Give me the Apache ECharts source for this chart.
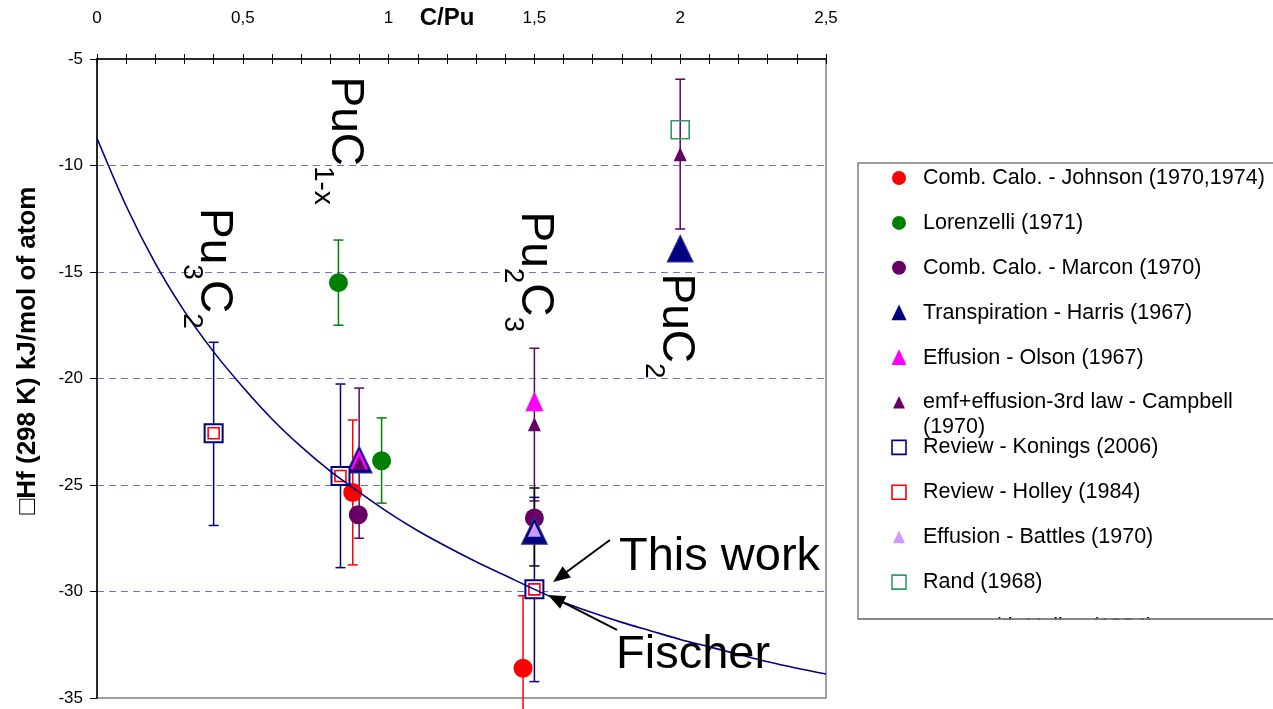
<!DOCTYPE html>
<html><head><meta charset="utf-8">
<script src="https://cdn.jsdelivr.net/npm/echarts@6/dist/echarts.min.js"></script>
<style>html,body{margin:0;padding:0;background:#fff}#c{width:1273px;height:709px}</style>
</head><body><div id="c"></div>
<script>
// ---------- data ----------
const xTickLabels = ['0', '0,5', '1', '1,5', '2', '2,5'];
const yTickLabels = ['-35', '-30', '-25', '-20', '-15', '-10', '-5'];
const xTitle = 'C/Pu';
const yTitle = '\u25A1Hf (298 K) kJ/mol of atom';

const curveX = [0, 0.1, 0.2, 0.3, 0.4, 0.5, 0.6, 0.7, 0.8, 0.9, 1.0, 1.1, 1.2, 1.3, 1.4, 1.5, 1.6, 1.7, 1.8, 1.9, 2.0, 2.1, 2.2, 2.3, 2.4, 2.5];
const curveY = [-8.72, -11.9, -14.6, -16.85, -18.75, -20.4, -21.9, -23.2, -24.35, -25.35, -26.3, -27.15, -27.9, -28.6, -29.25, -29.9, -30.5, -31.0, -31.45, -31.85, -32.25, -32.6, -32.95, -33.3, -33.6, -33.87];

const johnson = [[0.877, -25.35], [1.461, -33.6]];
const johnsonErr = [[0.877, -21.95, -28.75], [1.461, -30.2, -37.0]];
const lorenzelli = [[0.828, -15.5], [0.976, -23.86]];
const lorenzelliErr = [[0.828, -13.5, -17.5], [0.976, -21.85, -25.85]];
const marcon = [[0.896, -26.4], [1.5, -26.55]];
const harris = [[0.899, -23.8], [1.5, -27.15], [2.0, -13.9]];
const olson = [[0.899, -23.8], [1.5, -21.07]];
const campbell = [[0.899, -23.97], [1.5, -22.15], [2.0, -9.47]];
const campbellErr = [[0.899, -20.45, -27.5], [1.5, -18.58, -25.75], [2.0, -5.95, -12.98]];
const konings = [[0.4, -22.57], [0.835, -24.58], [1.5, -29.9]];
const koningsErr = [[0.4, -18.3, -26.9], [0.835, -20.26, -28.88], [1.5, -25.58, -34.23]];
const holley = [[0.4, -22.57], [0.835, -24.58], [1.5, -29.9]];
const battles = [[1.5, -27.1]];
const battlesErr = [[1.5, -25.14, -28.8]];
const rand = [[2.0, -8.32]];

const legendNames = [
  'Comb. Calo. - Johnson (1970,1974)',
  'Lorenzelli (1971)',
  'Comb. Calo. - Marcon (1970)',
  'Transpiration - Harris (1967)',
  'Effusion - Olson (1967)',
  'emf+effusion-3rd law - Campbell\n(1970)',
  'Review - Konings (2006)',
  'Review - Holley (1984)',
  'Effusion - Battles (1970)',
  'Rand (1968)',
  'curve with Holley (1984)'
];

// formula labels: [text, isSubscript]
const formulaLabels = [
  { parts: [['Pu', 0], ['3', 1], ['C', 0], ['2', 1]], x: 0.3995, y: -12.0 },
  { parts: [['PuC', 0], ['1-x', 1]], x: 0.8505, y: -5.82 },
  { parts: [['Pu', 0], ['2', 1], ['C', 0], ['3', 1]], x: 1.5003, y: -12.16 },
  { parts: [['PuC', 0], ['2', 1]], x: 1.9856, y: -15.07 }
];
const noteTexts = [
  { text: 'This work', x: 1.790, y: -28.40, tail: [1.759, -27.58], tip: [1.564, -29.55] },
  { text: 'Fischer', x: 1.780, y: -32.96, tail: [1.783, -31.80], tip: [1.547, -30.16] }
];

// ---------- chart ----------
const FONT = '"Liberation Sans", Arial, sans-serif';
const chart = echarts.init(document.getElementById('c'), null, { renderer: 'canvas' });

function errSeries(data, color) {
  return {
    type: 'custom', data: data, clip: false, silent: true,
    encode: { x: 0, y: [1, 2] },
    renderItem: function (params, api) {
      const x = api.value(0);
      const a = api.coord([x, api.value(1)]);
      const b = api.coord([x, api.value(2)]);
      const hw = 5;
      const st = { stroke: color, lineWidth: 1.5 };
      return {
        type: 'group', children: [
          { type: 'line', shape: { x1: a[0], y1: a[1], x2: b[0], y2: b[1] }, style: st },
          { type: 'line', shape: { x1: a[0] - hw, y1: a[1], x2: a[0] + hw, y2: a[1] }, style: st },
          { type: 'line', shape: { x1: b[0] - hw, y1: b[1], x2: b[0] + hw, y2: b[1] }, style: st }
        ]
      };
    }
  };
}
function scat(data, symbol, size, itemStyle) {
  itemStyle.opacity = 1;
  return { type: 'scatter', data: data, symbol: symbol, symbolSize: size, itemStyle: itemStyle, silent: true, emphasis: { disabled: true } };
}

const option = {
  animation: false,
  backgroundColor: '#fff',
  textStyle: { fontFamily: FONT },
  grid: { left: 97, top: 59, right: 447, bottom: 11, show: true, borderColor: '#808080', borderWidth: 1.5, backgroundColor: '#fff', outerBoundsMode: 'none', containLabel: false },
  xAxis: [{
    type: 'value', position: 'top', min: 0, max: 2.5, interval: 0.5,
    name: xTitle, nameLocation: 'middle', nameGap: 29, nameMoveOverlap: false,
    nameTextStyle: { fontFamily: FONT, fontSize: 24, fontWeight: 'bold', color: '#000', padding: [0, 29, 0, 0] },
    axisLine: { lineStyle: { color: '#000', width: 1.5 } },
    axisTick: { show: true, length: 5, lineStyle: { color: '#000' } },
    minorTick: { show: true, splitNumber: 5, length: 5, lineStyle: { color: '#000' } },
    axisLabel: { fontFamily: FONT, fontSize: 17, color: '#000', margin: 32,
      formatter: function (v) { return xTickLabels[Math.round(v / 0.5)]; } },
    splitLine: { show: false }
  }, {
    type: 'value', position: 'top', min: 0, max: 2.5, interval: 0.5,
    axisLine: { show: false },
    axisTick: { show: true, inside: true, length: 5, lineStyle: { color: '#000' } },
    minorTick: { show: true, splitNumber: 5, length: 5, lineStyle: { color: '#000' } },
    axisLabel: { show: false }, splitLine: { show: false }
  }],
  yAxis: {
    type: 'value', min: -35, max: -5, interval: 5,
    name: yTitle, nameLocation: 'middle', nameGap: 56, nameRotate: 90, nameMoveOverlap: false,
    nameTextStyle: { fontFamily: FONT, fontSize: 26, fontWeight: 'bold', color: '#000', padding: [0, 0, 0, 56] },
    axisLine: { show: true, lineStyle: { color: '#000', width: 1.5 } },
    axisTick: { show: true, length: 7, lineStyle: { color: '#000' } },
    axisLabel: { fontFamily: FONT, fontSize: 17, color: '#000', margin: 14,
      formatter: function (v) { return yTickLabels[Math.round((v + 35) / 5)]; } },
    splitLine: { show: true, showMinLine: false, showMaxLine: false,
      lineStyle: { color: 'rgba(0,0,128,0.55)', width: 1, type: [7, 5] } }
  },
  series: [
    errSeries(johnsonErr, '#ff0000'),
    scat(johnson, 'circle', 19, { color: '#ff0000' }),
    errSeries(lorenzelliErr, '#008000'),
    scat(lorenzelli, 'circle', 19, { color: '#008000' }),
    scat(marcon, 'circle', 19, { color: '#660066' }),
    scat(harris, 'triangle', [26, 27], { color: '#000080', borderColor: '#3a3a9a', borderWidth: 1 }),
    scat(olson, 'triangle', [18, 20], { color: '#ff00ff' }),
    errSeries(campbellErr, '#660066'),
    scat(campbell, 'triangle', [13, 14], { color: '#660066' }),
    errSeries(koningsErr, '#000080'),
    scat(konings, 'rect', 18, { color: '#fff', borderColor: '#000080', borderWidth: 2 }),
    scat(holley, 'rect', 11, { color: 'rgba(0,0,0,0)', borderColor: '#ff0000', borderWidth: 1.6 }),
    errSeries(battlesErr, '#000000'),
    scat(battles, 'triangle', [13, 14], { color: '#cc99ff' }),
    scat(rand, 'rect', 18, { color: 'rgba(0,0,0,0)', borderColor: '#339966', borderWidth: 1.6 }),
    { type: 'line', data: curveX.map((x, i) => [x, curveY[i]]), showSymbol: false, smooth: 0.3,
      lineStyle: { color: '#000080', width: 1.6 }, silent: true, z: 3 }
  ]
};
chart.setOption(option);

// ---------- graphics (annotations + legend) ----------
const ctx = document.createElement('canvas').getContext('2d');
function tw(t, size) { ctx.font = size + 'px ' + FONT; return ctx.measureText(t).width; }
const g = [];
const MAIN = 46, SUB = 28;
formulaLabels.forEach(function (f) {
  const p = chart.convertToPixel({ gridIndex: 0 }, [f.x, f.y]);
  let y = p[1];
  f.parts.forEach(function (pt) {
    const size = pt[1] ? SUB : MAIN;
    g.push({ type: 'text', x: pt[1] ? p[0] - 22 : p[0], y: y, rotation: -Math.PI / 2, silent: true, z: 50,
      style: { text: pt[0], font: size + 'px ' + FONT, fill: '#000', align: 'left', verticalAlign: 'middle', textAlign: 'left', textVerticalAlign: 'middle' } });
    y += tw(pt[0], size);
  });
});
noteTexts.forEach(function (n) {
  const p = chart.convertToPixel({ gridIndex: 0 }, [n.x, n.y]);
  g.push({ type: 'text', x: p[0], y: p[1], silent: true, z: 50,
    style: { text: n.text, font: '47px ' + FONT, fill: '#000', align: 'left', verticalAlign: 'middle', textAlign: 'left', textVerticalAlign: 'middle' } });
  const a = chart.convertToPixel({ gridIndex: 0 }, n.tail);
  const b = chart.convertToPixel({ gridIndex: 0 }, n.tip);
  const dx = b[0] - a[0], dy = b[1] - a[1], L = Math.sqrt(dx * dx + dy * dy);
  const ux = dx / L, uy = dy / L, hl = 17, hw = 7;
  const bx = b[0] - ux * hl, by = b[1] - uy * hl;
  g.push({ type: 'line', silent: true, z: 50, shape: { x1: a[0], y1: a[1], x2: bx + ux * 2, y2: by + uy * 2 }, style: { stroke: '#000', lineWidth: 2 } });
  g.push({ type: 'polygon', silent: true, z: 50, shape: { points: [[b[0], b[1]], [bx - uy * hw, by + ux * hw], [bx + uy * hw, by - ux * hw]] }, style: { fill: '#000' } });
});

// legend
const LX = 858, LTOP = 163, LBOT = 619, ROW0 = 178, ROWH = 44.9, MX = 899, TX = 923;
g.push({ type: 'rect', silent: true, z: 60, shape: { x: LX, y: LTOP, width: 1273 - LX + 20, height: LBOT - LTOP }, style: { fill: '#fff', stroke: '#808080', lineWidth: 1.5 } });
const markers = [
  { t: 'circle', c: '#ff0000' }, { t: 'circle', c: '#008000' }, { t: 'circle', c: '#660066' },
  { t: 'tri', c: '#000080', s: 15 }, { t: 'tri', c: '#ff00ff', s: 15 }, { t: 'tri', c: '#660066', s: 12 },
  { t: 'sq', c: '#000080' }, { t: 'sq', c: '#ff0000' }, { t: 'tri', c: '#cc99ff', s: 12 }, { t: 'sq', c: '#339966' },
  { t: 'none' }
];
legendNames.forEach(function (name, i) {
  const cy = ROW0 + i * ROWH;
  const m = markers[i];
  if (m.t === 'circle') g.push({ type: 'circle', silent: true, z: 61, shape: { cx: MX, cy: cy, r: 7 }, style: { fill: m.c } });
  if (m.t === 'tri') { const s = m.s; g.push({ type: 'polygon', silent: true, z: 61, shape: { points: [[MX, cy - s * 0.55], [MX - s / 2, cy + s * 0.5], [MX + s / 2, cy + s * 0.5]] }, style: { fill: m.c } }); }
  if (m.t === 'sq') g.push({ type: 'rect', silent: true, z: 61, shape: { x: MX - 7, y: cy - 7, width: 14, height: 14 }, style: { fill: 'none', stroke: m.c, lineWidth: 1.6 } });
  const lines = name.split('\n');
  lines.forEach(function (ln, k) {
    g.push({ type: 'text', silent: true, z: 61, x: TX, y: cy + k * 25,
      style: { text: ln, font: '21.5px ' + FONT, fill: '#000', align: 'left', verticalAlign: 'middle', textAlign: 'left', textVerticalAlign: 'middle' } });
  });
});
// clip the last (cut-off) legend entry
g.push({ type: 'rect', silent: true, z: 62, shape: { x: LX - 1, y: LBOT + 1, width: 1273 - LX + 2, height: 709 - LBOT }, style: { fill: '#fff' } });
g.push({ type: 'line', silent: true, z: 63, shape: { x1: LX, y1: LBOT, x2: 1273, y2: LBOT }, style: { stroke: '#808080', lineWidth: 1.5 } });

chart.setOption({ graphic: { elements: g } });
</script></body></html>
